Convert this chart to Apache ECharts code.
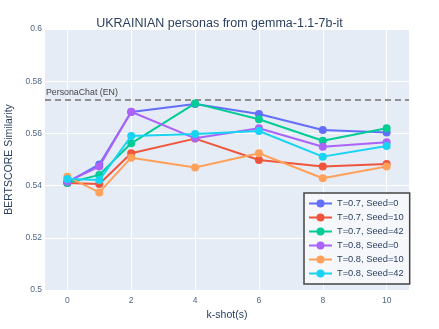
<!DOCTYPE html>
<html>
<head>
<meta charset="utf-8">
<script src="https://cdn.jsdelivr.net/npm/echarts@6/dist/echarts.min.js"></script>
<style>
  html, body { margin: 0; padding: 0; background: #fff; }
  #main { width: 439px; height: 329px; }
</style>
</head>
<body>
<div id="main"></div>
<script>
var kShots = [0, 1, 2, 4, 6, 8, 10];
var xTicks = [0, 2, 4, 6, 8, 10];
var baseline = 0.5728;

var t07s0  = [0.5412, 0.5481, 0.5682, 0.5713, 0.5674, 0.5613, 0.5603];
var t07s10 = [0.5410, 0.5406, 0.5524, 0.5580, 0.5498, 0.5473, 0.5483];
var t07s42 = [0.5410, 0.5441, 0.5562, 0.5715, 0.5654, 0.5572, 0.5620];
var t08s0  = [0.5415, 0.5473, 0.5683, 0.5581, 0.5620, 0.5549, 0.5566];
var t08s10 = [0.5434, 0.5374, 0.5507, 0.5469, 0.5524, 0.5428, 0.5473];
var t08s42 = [0.5425, 0.5421, 0.5590, 0.5598, 0.5609, 0.5511, 0.5552];

var names = ['T=0.7, Seed=0', 'T=0.7, Seed=10', 'T=0.7, Seed=42',
             'T=0.8, Seed=0', 'T=0.8, Seed=10', 'T=0.8, Seed=42'];
var values = [t07s0, t07s10, t07s42, t08s0, t08s10, t08s42];
var colors = ['#636efa', '#EF553B', '#00cc96', '#ab63fa', '#FFA15A', '#19d3f3'];

var font = '"Liberation Sans", Arial, sans-serif';

function pairs(arr) {
    var out = [];
    for (var i = 0; i < arr.length; i++) {
        out.push([kShots[i], arr[i]]);
    }
    return out;
}

var series = [];
for (var i = 0; i < names.length; i++) {
    series.push({
        name: names[i],
        type: 'line',
        data: pairs(values[i]),
        symbol: 'circle',
        symbolSize: 8,
        lineStyle: { width: 2, color: colors[i] },
        itemStyle: { color: colors[i] },
        z: 3 + i
    });
}
// dashed reference line (precision: default 2 would round it to 0.57)
series[0].markLine = {
    silent: true,
    symbol: 'none',
    precision: 4,
    data: [{ yAxis: baseline }],
    lineStyle: { color: '#909090', type: [6, 4], width: 2 },
    label: {
        show: true,
        position: 'insideStartTop',
        formatter: 'PersonaChat (EN)',
        color: '#444',
        fontSize: 8.8,
        fontFamily: font,
        distance: [1, 3]
    },
    z: 2
};

var myChart = echarts.init(document.getElementById('main'));
var option = {
    animation: false,
    backgroundColor: '#fff',
    color: colors,
    title: {
        text: 'UKRAINIAN personas from gemma-1.1-7b-it',
        left: 'center',
        top: 12,
        textStyle: { color: '#2a3f5f', fontSize: 12.5, fontWeight: 'normal', fontFamily: font }
    },
    grid: {
        left: 45, right: 30, top: 29, bottom: 39,
        outerBoundsMode: 'none', containLabel: false,
        backgroundColor: '#E5ECF6', show: true, borderWidth: 0
    },
    legend: {
        orient: 'vertical',
        left: 304,
        top: 193,
        width: 103,
        padding: [6, 6, 6, 4],
        itemWidth: 23,
        itemHeight: 10,
        itemGap: 5,
        backgroundColor: 'rgba(255,255,255,0.6)',
        borderColor: '#444',
        borderWidth: 1.5,
        textStyle: { color: '#2a3f5f', fontSize: 9.3, fontFamily: font },
        data: names
    },
    xAxis: {
        type: 'value',
        min: -0.7,
        max: 10.7,
        name: 'k-shot(s)',
        nameLocation: 'middle',
        nameGap: 20,
        nameTextStyle: { color: '#2a3f5f', fontSize: 10.5, fontFamily: font },
        axisLine: { show: false },
        axisTick: { show: false, customValues: xTicks },
        axisLabel: { customValues: xTicks, color: '#506784', fontSize: 8.5, fontFamily: font, margin: 6 },
        splitLine: { show: true, lineStyle: { color: '#fff', width: 1 } }
    },
    yAxis: {
        type: 'value',
        min: 0.5,
        max: 0.6,
        interval: 0.02,
        name: 'BERTSCORE Similarity',
        nameLocation: 'middle',
        nameGap: 28,
        nameTextStyle: { color: '#2a3f5f', fontSize: 10.5, fontFamily: font },
        axisLine: { show: false },
        axisTick: { show: false },
        axisLabel: { color: '#506784', fontSize: 8.5, fontFamily: font, margin: 3 },
        splitLine: { show: true, lineStyle: { color: '#fff', width: 1 } }
    },
    series: series
};
myChart.setOption(option);
</script>
</body>
</html>
